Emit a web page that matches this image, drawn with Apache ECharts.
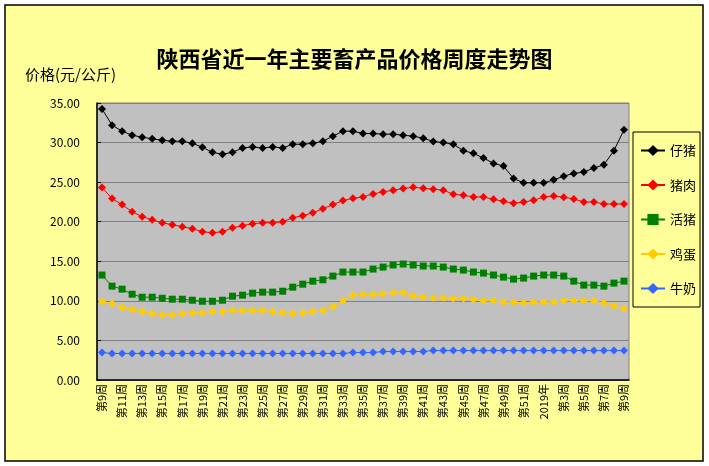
<!DOCTYPE html>
<html>
<head>
<meta charset="utf-8">
<script src="https://cdn.jsdelivr.net/npm/echarts@6/dist/echarts.min.js"></script>
<style>
  html, body { margin: 0; padding: 0; background: #fff; }
  #main { width: 709px; height: 466px; }
</style>
</head>
<body>
<div id="main"></div>
<script>
var weeks = [
  '第9周', '第10周', '第11周', '第12周', '第13周', '第14周', '第15周', '第16周', '第17周', '第18周',
  '第19周', '第20周', '第21周', '第22周', '第23周', '第24周', '第25周', '第26周', '第27周', '第28周',
  '第29周', '第30周', '第31周', '第32周', '第33周', '第34周', '第35周', '第36周', '第37周', '第38周',
  '第39周', '第40周', '第41周', '第42周', '第43周', '第44周', '第45周', '第46周', '第47周', '第48周',
  '第49周', '第50周', '第51周', '第52周', '2019年', '第2周', '第3周', '第4周', '第5周', '第6周',
  '第7周', '第8周', '第9周'
]
var yTicks = [0, 5, 10, 15, 20, 25, 30, 35]

// 仔猪
var piglet = [
  34.24, 32.2, 31.44, 30.93, 30.68, 30.47, 30.3, 30.17, 30.17, 29.91,
  29.41, 28.77, 28.52, 28.77, 29.32, 29.45, 29.32, 29.45, 29.32, 29.79,
  29.79, 29.91, 30.17, 30.81, 31.44, 31.44, 31.15, 31.15, 31.06, 31.06,
  30.93, 30.81, 30.55, 30.13, 30.0, 29.79, 28.98, 28.64, 28.05, 27.37,
  27.03, 25.46, 24.91, 24.91, 24.91, 25.29, 25.76, 26.1, 26.27, 26.78,
  27.2, 28.98, 31.61
]
// 猪肉
var pork = [
  24.32, 22.92, 22.16, 21.27, 20.64, 20.25, 19.87, 19.62, 19.36, 19.11,
  18.73, 18.6, 18.73, 19.24, 19.49, 19.75, 19.87, 19.87, 20.0, 20.51,
  20.76, 21.14, 21.65, 22.16, 22.67, 22.96, 23.13, 23.51, 23.77, 23.98,
  24.19, 24.36, 24.23, 24.11, 23.98, 23.47, 23.34, 23.13, 23.13, 22.83,
  22.58, 22.32, 22.49, 22.71, 23.13, 23.26, 23.09, 22.88, 22.49, 22.49,
  22.24, 22.24, 22.24
]
// 活猪
var liveHog = [
  13.26, 11.86, 11.48, 10.84, 10.46, 10.46, 10.33, 10.21, 10.21, 10.08,
  9.95, 9.95, 10.08, 10.59, 10.72, 10.97, 11.1, 11.1, 11.22, 11.73,
  12.11, 12.49, 12.66, 13.13, 13.64, 13.64, 13.64, 14.02, 14.27, 14.53,
  14.65, 14.53, 14.4, 14.4, 14.27, 14.02, 13.89, 13.64, 13.51, 13.26,
  13.0, 12.75, 12.88, 13.13, 13.26, 13.26, 13.13, 12.49, 11.99, 11.99,
  11.86, 12.24, 12.49
]
// 鸡蛋
var egg = [
  9.91, 9.66, 9.15, 8.89, 8.64, 8.39, 8.26, 8.26, 8.39, 8.51,
  8.51, 8.64, 8.64, 8.77, 8.77, 8.77, 8.77, 8.64, 8.51, 8.39,
  8.51, 8.64, 8.77, 9.28, 10.04, 10.71, 10.84, 10.76, 10.89, 11.01,
  11.01, 10.63, 10.46, 10.38, 10.38, 10.29, 10.29, 10.17, 10.0, 10.0,
  9.87, 9.87, 9.74, 9.87, 9.87, 9.87, 10.0, 10.0, 10.0, 10.0,
  9.74, 9.36, 9.02
]
// 牛奶
var milk = [
  3.47, 3.35, 3.35, 3.35, 3.35, 3.35, 3.35, 3.35, 3.35, 3.35,
  3.35, 3.35, 3.35, 3.35, 3.35, 3.35, 3.35, 3.35, 3.35, 3.35,
  3.35, 3.35, 3.35, 3.35, 3.35, 3.47, 3.47, 3.47, 3.6, 3.6,
  3.6, 3.6, 3.6, 3.73, 3.73, 3.73, 3.73, 3.73, 3.73, 3.73,
  3.73, 3.73, 3.73, 3.73, 3.73, 3.73, 3.73, 3.73, 3.73, 3.73,
  3.73, 3.73, 3.73
]

var seriesNames = ['仔猪', '猪肉', '活猪', '鸡蛋', '牛奶']
var seriesData = [piglet, pork, liveHog, egg, milk]
var seriesColors = ['#000000', '#FF0000', '#008000', '#FFCC00', '#3366FF']
var seriesSymbols = ['diamond', 'diamond', 'rect', 'diamond', 'diamond']

var font = '"Noto Sans CJK SC", sans-serif'

var myChart = echarts.init(document.getElementById('main'))
var option = {
  animation: false,
  backgroundColor: '#ffffff',
  textStyle: { fontFamily: font, color: '#000' },
  graphic: {
    elements: [{
      type: 'rect',
      z: -10,
      silent: true,
      shape: { x: 5, y: 5, width: 698, height: 456 },
      style: { fill: '#FFFF99', stroke: '#000', lineWidth: 1.5 }
    }]
  },
  title: [{
    text: '陕西省近一年主要畜产品价格周度走势图',
    left: 'center',
    top: 43,
    textStyle: { fontSize: 22, fontWeight: 'bold', fontFamily: font, color: '#000' }
  }, {
    text: '价格(元/公斤)',
    left: 20,
    top: 62,
    textStyle: { fontSize: 15, fontWeight: 'normal', fontFamily: font, color: '#000' }
  }],
  legend: {
    orient: 'vertical',
    left: 633,
    top: 132,
    padding: [12, 4, 12, 7],
    itemWidth: 24,
    itemHeight: 14,
    itemGap: 21.5,
    borderColor: '#000',
    borderWidth: 1,
    textStyle: { fontSize: 13, fontFamily: font, color: '#000' },
    data: seriesNames
  },
  grid: {
    left: 97,
    top: 103,
    right: 80,
    bottom: 86,
    show: true,
    backgroundColor: '#C0C0C0',
    borderColor: '#808080',
    borderWidth: 1
  },
  xAxis: {
    type: 'category',
    data: weeks,
    boundaryGap: true,
    axisLine: { lineStyle: { color: '#000', width: 1.5 } },
    axisTick: { inside: true, length: 4, interval: 0, lineStyle: { color: '#000' } },
    axisLabel: { interval: 1, rotate: 90, fontSize: 11, margin: 4, color: '#000', fontFamily: font },
    splitLine: { show: false }
  },
  yAxis: {
    type: 'value',
    min: yTicks[0],
    max: yTicks[yTicks.length - 1],
    interval: yTicks[1] - yTicks[0],
    axisLine: { show: true, lineStyle: { color: '#000', width: 1.5 } },
    axisTick: { show: true, inside: true, length: 4, lineStyle: { color: '#000' } },
    axisLabel: {
      fontSize: 12,
      margin: 17,
      color: '#000',
      fontFamily: font,
      formatter: function (v) { return v.toFixed(2) }
    },
    splitLine: { lineStyle: { color: '#808080', width: 1 } }
  },
  series: seriesNames.map(function (name, i) {
    return {
      name: name,
      type: 'line',
      data: seriesData[i],
      symbol: seriesSymbols[i],
      symbolSize: seriesSymbols[i] === 'rect' ? 7 : 8,
      showAllSymbol: true,
      color: seriesColors[i],
      lineStyle: { color: seriesColors[i], width: 1 },
      itemStyle: { color: seriesColors[i] }
    }
  })
}
myChart.setOption(option)
</script>
</body>
</html>
